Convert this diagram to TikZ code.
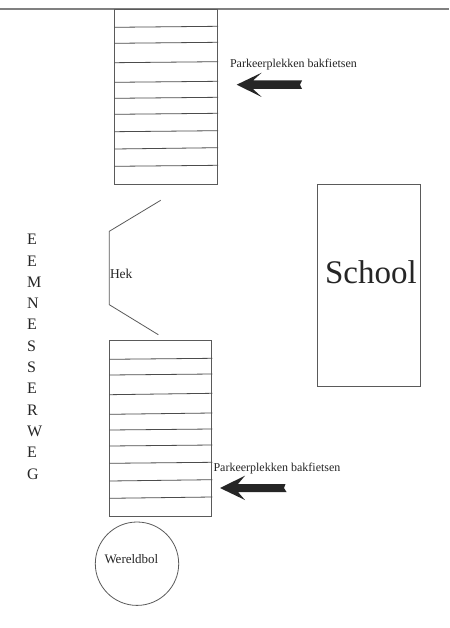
\documentclass[tikz,border=0pt]{standalone}
\usepackage{fontspec}
\setmainfont{Liberation Serif}
\definecolor{ln}{HTML}{5A5A5A}
\definecolor{txt}{HTML}{262626}
\tikzset{
  plan/.style={draw=ln,line width=0.8pt},
  slot/.style={draw=ln!85!black,line width=0.8pt},
  bigarrow/.style={fill=txt,draw=none},
  lbl/.style={anchor=base west,inner sep=0pt,outer sep=0pt,text=txt},
  streetletter/.style={lbl,font=\fontsize{16}{16}\selectfont},
  small/.style={lbl,font=\fontsize{12}{12}\selectfont},
  mid/.style={lbl,font=\fontsize{13}{13}\selectfont}
}
\begin{document}
\begin{tikzpicture}[x=1pt,y=-1pt]
\useasboundingbox[fill=white] (0,0) rectangle (449,628);
\draw[draw=black!50,line width=1.2pt] (0,9) -- (449,9);
% upper bike parking
\draw[plan] (114.5,9) rectangle (217.5,184.5);
\foreach \a/\b in {27.3/26.3,43.3/42.3,62.7/61.7,82.3/81.3,98.3/97.3,114.3/113.3,131.7/130.7,149/147.7,166.3/165.3}
  \draw[slot] (114.5,\a) -- (218,\b);
% lower bike parking
\draw[plan] (109.3,340.3) rectangle (211.7,516.3);
\foreach \a/\b in {359.3/358.3,375/374,394.7/393.3,414.3/413,430/429,446/445,463.3/462.3,481/479.7,498.3/497}
  \draw[slot] (109.3,\a) -- (212.3,\b);
% school
\draw[plan] (317.5,184.7) rectangle (420.6,386.3);
\node[lbl,font=\fontsize{33}{33}\selectfont] (school) at (325,283) {School};
% fence
\draw[plan] (160.7,200.3) -- (109.3,231.3) -- (109.3,304.7) -- (158.3,334.7);
\node[lbl,font=\fontsize{13.5}{13.5}\selectfont] (hek) at (110,278.7) {Hek};
% globe
\draw[plan] (137,563.7) circle (41.7);
\node[mid] (globe) at (104.5,563.5) {Wereldbol};
% arrows
\fill[bigarrow] (236.7,84.7) -- (261.7,72.7) -- (253,80.5) -- (302,80.5) -- (300,84.7) -- (302,89) -- (253,89) -- (261.7,97) -- cycle;
\fill[bigarrow] (220,488) -- (245,475.7) -- (238,484) -- (285.5,484) -- (284,488) -- (286.5,492) -- (238,492) -- (245,500) -- cycle;
\node[small] (p1) at (230,68) {Parkeerplekken bakfietsen};
\node[small] (p2) at (213.5,471.5) {Parkeerplekken bakfietsen};
% street name
\foreach \c/\y/\n in {E/244.7/a,E/266/b,M/287.3/c,N/308.6/d,E/329.9/e,S/351.2/f,S/372.5/g,E/393.8/h,R/415.1/i,W/436.4/j,E/457.7/k,G/479/l}
  \node[streetletter] (s\n) at (27,\y) {\c};
\end{tikzpicture}
\end{document}
